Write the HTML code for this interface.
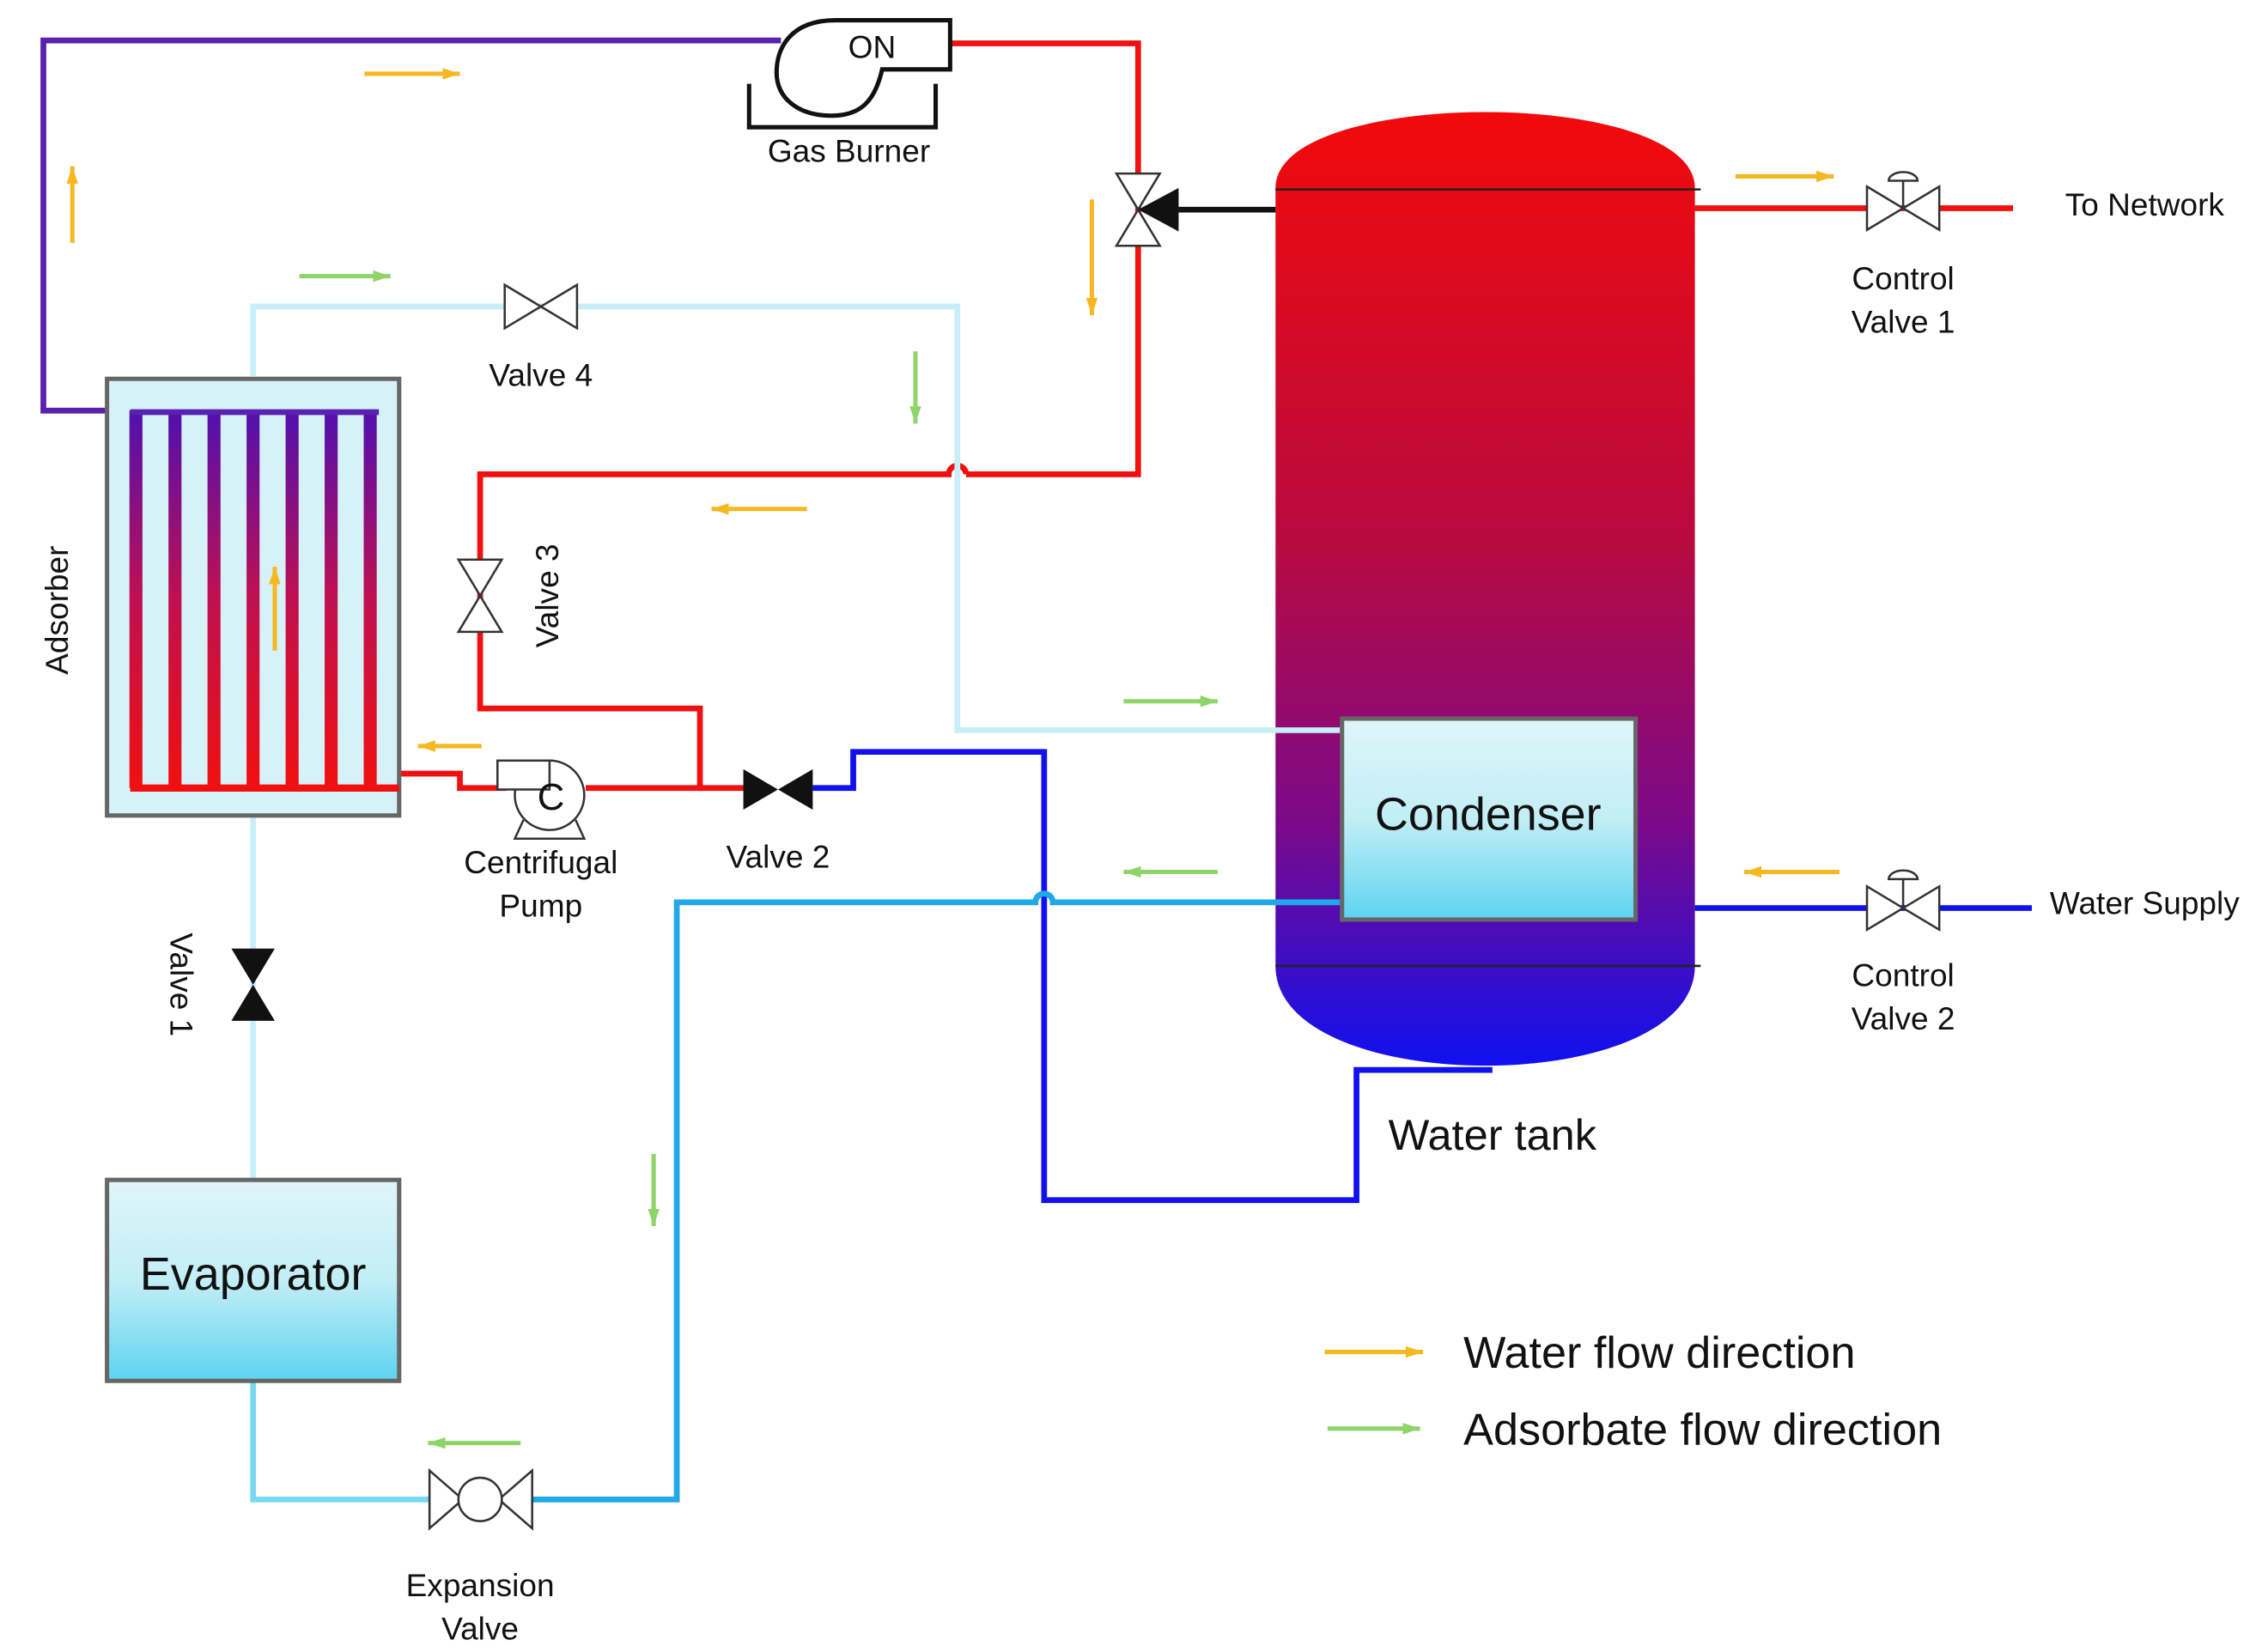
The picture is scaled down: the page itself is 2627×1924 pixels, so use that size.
<!DOCTYPE html>
<html><head><meta charset="utf-8"><style>html,body{margin:0;padding:0;background:#fff}svg{display:block}text{font-family:"Liberation Sans",sans-serif;fill:#111}</style></head><body>
<svg width="2627" height="1924" viewBox="0 0 1560 1142.5" preserveAspectRatio="none" xmlns="http://www.w3.org/2000/svg">
<defs>
<linearGradient id="tank" x1="0" y1="0" x2="0" y2="1"><stop offset="0" stop-color="#f20a0a"/><stop offset="0.45" stop-color="#b80a40"/><stop offset="0.75" stop-color="#7a0a8a"/><stop offset="1" stop-color="#1010f0"/></linearGradient>
<linearGradient id="box" x1="0" y1="0" x2="0" y2="1"><stop offset="0" stop-color="#dff5f9"/><stop offset="0.5" stop-color="#c2eef6"/><stop offset="1" stop-color="#5dd3f0"/></linearGradient>
<linearGradient id="tube" gradientUnits="userSpaceOnUse" x1="0" y1="284" x2="0" y2="545"><stop offset="0" stop-color="#5010b0"/><stop offset="0.5" stop-color="#c01050"/><stop offset="1" stop-color="#f01010"/></linearGradient>
<marker id="ao" markerWidth="12" markerHeight="8" refX="12" refY="4" orient="auto" markerUnits="userSpaceOnUse"><path d="M0,0 L12,4 L0,8z" fill="#f5b820"/></marker>
<marker id="ag" markerWidth="12" markerHeight="8" refX="12" refY="4" orient="auto" markerUnits="userSpaceOnUse"><path d="M0,0 L12,4 L0,8z" fill="#8ed468"/></marker>
</defs>
<path d="M882,130 C882,60 1172,60 1172,130 L1172,668 C1172,760 882,760 882,668 Z" fill="url(#tank)"/>
<line x1="882" y1="131" x2="1176" y2="131" stroke="#222" stroke-width="1.5"/>
<line x1="882" y1="668" x2="1176" y2="668" stroke="#222" stroke-width="1.5"/>
<polyline points="540,28 30,28 30,284 262,284" fill="none" stroke="#5a20b0" stroke-width="4"/>
<polyline points="657,30 787,30 787,328 668,328" fill="none" stroke="#f01010" stroke-width="4"/>
<path d="M668,328 A6,6 0 0 0 656,328 L332,328 L332,490 L484,490 L484,545 L405,545" fill="none" stroke="#f01010" stroke-width="4"/>
<polyline points="515,545 484,545" fill="none" stroke="#f01010" stroke-width="4"/>
<polyline points="350,545 318,545 318,535 276,535" fill="none" stroke="#f01010" stroke-width="4"/>
<line x1="1172" y1="144" x2="1392" y2="144" stroke="#f01010" stroke-width="4"/>
<polyline points="562,545 590,545 590,520 722,520 722,830 938,830 938,740 1030,740 1030,738" fill="none" stroke="#1010f0" stroke-width="4"/>
<line x1="1172" y1="628" x2="1405" y2="628" stroke="#1010f0" stroke-width="4"/>
<polyline points="175,260 175,212 662,212 662,505 928,505" fill="none" stroke="#c8eef8" stroke-width="4"/>
<line x1="175" y1="565" x2="175" y2="815" stroke="#c8eef8" stroke-width="4"/>
<path d="M928,624 L728,624 A6,6 0 0 0 716,624 L468,624 L468,1037 L368,1037" fill="none" stroke="#20a8e8" stroke-width="4"/>
<polyline points="297,1037 175,1037 175,955" fill="none" stroke="#7ad8f0" stroke-width="4"/>
<rect x="74" y="262" width="202" height="302" fill="#d6f2f8" stroke="#666" stroke-width="3"/>
<g stroke="url(#tube)" stroke-width="9">
<line x1="94" y1="284" x2="94" y2="545"/><line x1="121" y1="284" x2="121" y2="545"/><line x1="148" y1="284" x2="148" y2="545"/><line x1="175" y1="284" x2="175" y2="545"/><line x1="202" y1="284" x2="202" y2="545"/><line x1="229" y1="284" x2="229" y2="545"/><line x1="256" y1="284" x2="256" y2="545"/>
</g>
<line x1="90" y1="545" x2="276" y2="545" stroke="#f01010" stroke-width="5"/>
<line x1="90" y1="285" x2="262" y2="285" stroke="#5a20b0" stroke-width="4"/>
<text x="47" y="422" font-size="22" text-anchor="middle" transform="rotate(-90 47 422)">Adsorber</text>
<rect x="74" y="816" width="202" height="139" fill="url(#box)" stroke="#666" stroke-width="3"/>
<text x="175" y="892" font-size="32" text-anchor="middle">Evaporator</text>
<rect x="928" y="497" width="203" height="139" fill="url(#box)" stroke="#666" stroke-width="3"/>
<text x="1029" y="574" font-size="32" text-anchor="middle">Condenser</text>
<path d="M657,14 L578,14 C545,14 537,35 537,50 C537,68 552,80 575,80 C595,80 605,70 610,48 L657,48 Z" fill="#fff" stroke="#111" stroke-width="3"/>
<polyline points="518,58 518,88 647,88 647,58" fill="none" stroke="#111" stroke-width="3"/>
<text x="603" y="40" font-size="22" text-anchor="middle">ON</text>
<text x="587" y="112" font-size="22" text-anchor="middle">Gas Burner</text>
<path d="M772,120 L802,120 L787,145 Z M772,170 L802,170 L787,145 Z" fill="#fff" stroke="#333" stroke-width="1.5"/>
<path d="M815,130 L815,160 L787,145 Z" fill="#111"/>
<line x1="815" y1="145" x2="882" y2="145" stroke="#111" stroke-width="4"/>
<path d="M349,197 L349,227 L374,212 Z M399,197 L399,227 L374,212 Z" fill="#fff" stroke="#333" stroke-width="1.5"/>
<text x="374" y="267" font-size="22" text-anchor="middle">Valve 4</text>
<path d="M317,387 L347,387 L332,412 Z M317,437 L347,437 L332,412 Z" fill="#fff" stroke="#333" stroke-width="1.5"/>
<text x="386" y="412" font-size="22" text-anchor="middle" transform="rotate(-90 386 412)">Valve 3</text>
<path d="M514,532 L514,560 L538,546 Z M562,532 L562,560 L538,546 Z" fill="#111"/>
<text x="538" y="600" font-size="22" text-anchor="middle">Valve 2</text>
<path d="M160,656 L190,656 L175,681 Z M160,706 L190,706 L175,681 Z" fill="#111"/>
<text x="118" y="681" font-size="22" text-anchor="middle" transform="rotate(90 118 681)">Valve 1</text>
<path d="M362,567 L356,580 L404,580 L398,567" fill="#fff" stroke="#333" stroke-width="1.5"/>
<circle cx="380" cy="550" r="24" fill="#fff" stroke="#333" stroke-width="1.5"/>
<rect x="344" y="526" width="36" height="20" fill="#fff" stroke="#333" stroke-width="1.5"/>
<text x="381" y="560" font-size="26" text-anchor="middle">C</text>
<text x="374" y="604" font-size="22" text-anchor="middle">Centrifugal</text>
<text x="374" y="634" font-size="22" text-anchor="middle">Pump</text>
<path d="M297,1017 L297,1057 L320,1037 Z M368,1017 L368,1057 L345,1037 Z" fill="#fff" stroke="#333" stroke-width="1.5"/>
<circle cx="332" cy="1037" r="15" fill="#fff" stroke="#333" stroke-width="1.5"/>
<text x="332" y="1104" font-size="22" text-anchor="middle">Expansion</text>
<text x="332" y="1134" font-size="22" text-anchor="middle">Valve</text>
<path d="M1291,129 L1291,159 L1316,144 Z M1341,129 L1341,159 L1316,144 Z" fill="#fff" stroke="#333" stroke-width="1.5"/>
<line x1="1316" y1="144" x2="1316" y2="125" stroke="#333" stroke-width="1.5"/><path d="M1306,125 A10,6 0 0 1 1326,125 Z" fill="#fff" stroke="#333" stroke-width="1.5"/>
<text x="1316" y="200" font-size="22" text-anchor="middle">Control</text>
<text x="1316" y="230" font-size="22" text-anchor="middle">Valve 1</text>
<text x="1483" y="149" font-size="22" text-anchor="middle">To Network</text>
<path d="M1291,613 L1291,643 L1316,628 Z M1341,613 L1341,643 L1316,628 Z" fill="#fff" stroke="#333" stroke-width="1.5"/>
<line x1="1316" y1="628" x2="1316" y2="608" stroke="#333" stroke-width="1.5"/><path d="M1306,608 A10,6 0 0 1 1326,608 Z" fill="#fff" stroke="#333" stroke-width="1.5"/>
<text x="1316" y="682" font-size="22" text-anchor="middle">Control</text>
<text x="1316" y="712" font-size="22" text-anchor="middle">Valve 2</text>
<text x="1483" y="632" font-size="22" text-anchor="middle">Water Supply</text>
<text x="1032" y="795" font-size="30" text-anchor="middle">Water tank</text>
<g stroke="#f5b820" stroke-width="3" marker-end="url(#ao)">
<line x1="252" y1="51" x2="318" y2="51"/>
<line x1="50" y1="168" x2="50" y2="115"/>
<line x1="755" y1="138" x2="755" y2="218"/>
<line x1="558" y1="352" x2="492" y2="352"/>
<line x1="190" y1="450" x2="190" y2="392"/>
<line x1="333" y1="516" x2="289" y2="516"/>
<line x1="1200" y1="122" x2="1268" y2="122"/>
<line x1="1272" y1="603" x2="1206" y2="603"/>
<line x1="916" y1="935" x2="984" y2="935"/>
</g>
<g stroke="#8ed468" stroke-width="3" marker-end="url(#ag)">
<line x1="207" y1="191" x2="270" y2="191"/>
<line x1="633" y1="243" x2="633" y2="293"/>
<line x1="777" y1="485" x2="842" y2="485"/>
<line x1="842" y1="603" x2="777" y2="603"/>
<line x1="452" y1="798" x2="452" y2="848"/>
<line x1="360" y1="998" x2="296" y2="998"/>
<line x1="918" y1="988" x2="982" y2="988"/>
</g>
<text x="1012" y="946" font-size="31">Water flow direction</text>
<text x="1012" y="999" font-size="31">Adsorbate flow direction</text>
</svg>
</body></html>
